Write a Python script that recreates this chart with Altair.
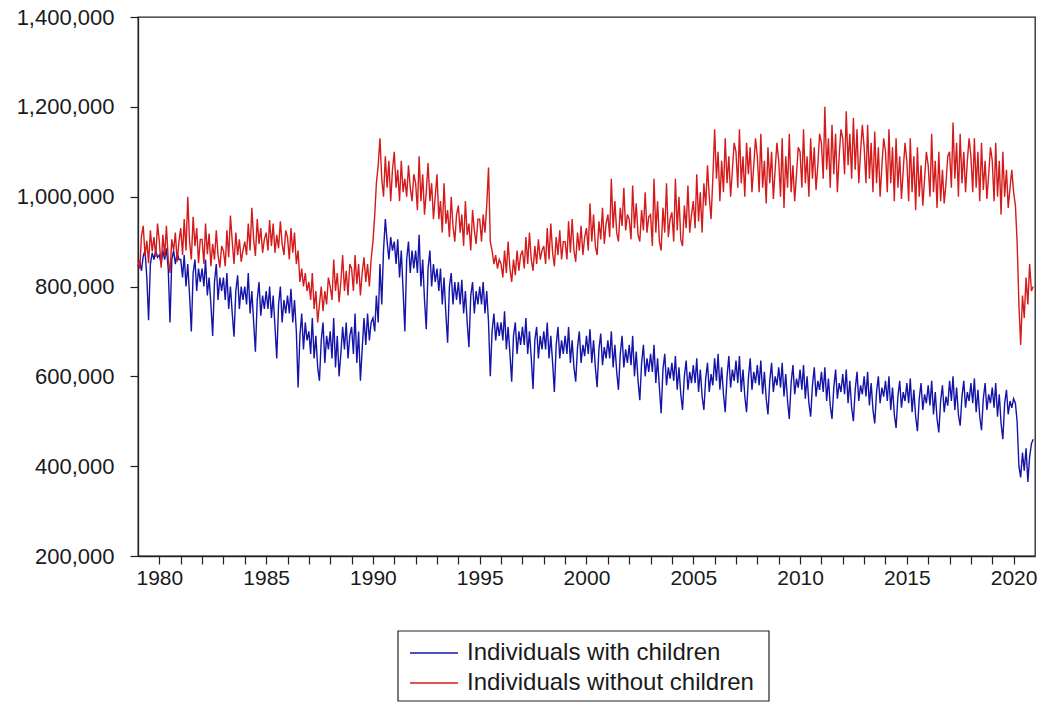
import altair as alt
import pandas as pd

years = list(range(1979, 2021))

# monthly values, thousands (Jan..Dec for each year 1979..2020)
with_children = [
    [845, 855, 835, 868, 880, 820, 725, 850, 875, 860, 880, 865],
    [870, 850, 880, 860, 885, 840, 720, 860, 880, 850, 875, 860],
    [860, 820, 870, 800, 850, 780, 700, 830, 860, 790, 840, 810],
    [840, 800, 860, 780, 820, 760, 690, 810, 850, 770, 820, 790],
    [820, 770, 830, 750, 800, 740, 688, 790, 825, 750, 800, 770],
    [800, 760, 830, 740, 790, 720, 655, 770, 810, 735, 780, 750],
    [790, 750, 800, 730, 780, 710, 640, 760, 800, 720, 770, 740],
    [780, 740, 795, 720, 770, 700, 575, 690, 740, 660, 720, 680],
    [700, 650, 730, 640, 690, 620, 590, 680, 720, 630, 690, 660],
    [700, 640, 730, 620, 690, 600, 650, 710, 660, 720, 640, 690],
    [710, 650, 740, 630, 700, 590, 660, 730, 670, 740, 680, 720],
    [730, 700, 780, 720, 850, 760, 880, 950, 900, 860, 910, 880],
    [900, 850, 905, 820, 880, 790, 700, 860, 900, 830, 880, 840],
    [880, 830, 915, 800, 860, 770, 705, 840, 880, 800, 850, 810],
    [840, 790, 840, 760, 820, 740, 675, 800, 830, 760, 810, 770],
    [810, 760, 815, 740, 790, 720, 665, 780, 810, 740, 790, 760],
    [800, 760, 810, 740, 790, 720, 600, 700, 740, 680, 720, 690],
    [720, 680, 745, 660, 710, 650, 588, 690, 720, 650, 700, 670],
    [710, 670, 730, 650, 700, 640, 572, 680, 710, 640, 690, 660],
    [700, 660, 720, 640, 690, 630, 565, 670, 710, 640, 680, 650],
    [690, 650, 710, 630, 680, 620, 588, 665, 700, 630, 670, 645],
    [690, 650, 705, 630, 680, 620, 576, 660, 695, 625, 665, 640],
    [680, 640, 700, 620, 670, 610, 570, 650, 690, 620, 660, 630],
    [670, 625, 690, 600, 655, 590, 547, 630, 670, 600, 640, 610],
    [650, 610, 670, 585, 640, 575, 518, 615, 650, 580, 620, 595],
    [630, 590, 645, 570, 620, 560, 525, 600, 635, 570, 610, 585],
    [625, 585, 640, 565, 615, 555, 525, 595, 630, 565, 605, 580],
    [640, 590, 650, 570, 620, 560, 520, 600, 645, 575, 615, 590],
    [635, 585, 645, 565, 615, 555, 520, 595, 640, 570, 610, 585],
    [625, 580, 635, 560, 610, 550, 515, 590, 630, 565, 600, 580],
    [620, 575, 630, 555, 605, 545, 505, 585, 625, 560, 595, 575],
    [615, 570, 625, 550, 600, 540, 510, 580, 620, 555, 590, 570],
    [610, 565, 620, 545, 595, 535, 505, 575, 615, 550, 585, 565],
    [605, 560, 615, 540, 590, 530, 500, 570, 610, 545, 580, 560],
    [600, 555, 610, 535, 585, 525, 495, 565, 600, 540, 575, 555],
    [590, 545, 600, 525, 575, 515, 485, 555, 590, 530, 565, 545],
    [585, 540, 595, 520, 570, 510, 478, 550, 585, 525, 560, 540],
    [580, 535, 590, 515, 565, 505, 475, 545, 580, 520, 555, 535],
    [590, 545, 600, 525, 575, 515, 490, 555, 590, 530, 565, 545],
    [585, 540, 595, 520, 570, 510, 480, 550, 585, 525, 560, 540],
    [575, 530, 585, 510, 560, 495, 460, 540, 570, 515, 545, 530],
    [550, 540, 500, 400, 375, 430, 390, 440, 365, 420, 450, 460],
]

without_children = [
    [858, 840, 912, 935, 868, 902, 852, 925, 878, 910, 866, 940],
    [900, 842, 915, 868, 935, 860, 830, 905, 880, 920, 855, 900],
    [930, 870, 950, 880, 1000, 900, 860, 955, 890, 930, 852, 905],
    [905, 850, 940, 872, 918, 845, 895, 860, 925, 870, 842, 890],
    [880, 845, 925, 865, 958, 900, 850, 920, 870, 905, 855, 880],
    [900, 870, 940, 880, 975, 905, 868, 950, 895, 930, 875, 905],
    [920, 880, 948, 890, 940, 875, 915, 885, 945, 895, 870, 925],
    [910, 860, 930, 875, 920, 850, 880, 810, 840, 800, 830, 790],
    [810, 770, 830, 750, 790, 720, 760, 800, 745, 790, 760, 820],
    [800, 770, 860, 790, 830, 765, 810, 870, 790, 835, 780, 850],
    [840, 790, 870, 805, 850, 780, 830, 865, 810, 850, 800, 860],
    [900, 960, 1030, 1070, 1130, 1040, 1000, 1090, 1020, 1080, 990, 1060],
    [1100, 1020, 1060, 990, 1080, 1010, 1040, 1000, 1070, 1020, 990, 1050],
    [1030, 970, 1090, 990, 1050, 960, 1010, 1075, 990, 1030, 950, 1000],
    [1050, 950, 990, 920, 1030, 940, 970, 910, 1000, 935, 900, 960],
    [980, 920, 960, 890, 990, 915, 940, 880, 970, 925, 895, 950],
    [950, 900, 960, 920, 980, 1065, 900, 880, 850, 870, 840, 860],
    [850, 820, 880, 830, 900, 840, 810, 860, 825, 880, 835, 870],
    [880, 840, 910, 850, 920, 860, 835, 890, 850, 905, 860, 880],
    [890, 850, 930, 860, 940, 875, 845, 910, 870, 925, 860, 900],
    [900, 860, 945, 875, 950, 880, 855, 920, 880, 935, 870, 910],
    [930, 880, 985, 900, 960, 890, 870, 945, 905, 975, 895, 940],
    [960, 910, 1040, 930, 990, 920, 900, 975, 935, 1020, 925, 960],
    [950, 905, 1025, 930, 985, 915, 900, 970, 925, 1010, 920, 955],
    [960, 890, 1040, 920, 990, 900, 880, 975, 920, 1030, 910, 950],
    [965, 900, 1040, 925, 1000, 905, 890, 980, 930, 1025, 920, 960],
    [990, 930, 1050, 945, 1010, 920, 1030, 980, 1070, 1000, 950, 1040],
    [1150, 1040, 1100, 990, 1080, 1010, 1130, 1030, 1090, 1000, 1060, 1120],
    [1100, 1020, 1150, 1030, 1090, 1000, 1120, 1050, 1110, 1010, 1070, 1130],
    [1090, 1010, 1140, 1020, 1080, 985, 1110, 1030, 1100, 995, 1060, 1120],
    [1080, 1000, 1130, 975, 1090, 1020, 1140, 1010, 1070, 990, 1050, 1110],
    [1100, 1020, 1150, 1030, 1090, 1000, 1130, 1040, 1110, 1015, 1070, 1140],
    [1120, 1040, 1200, 1060, 1130, 1020, 1160, 1050, 1140, 1010, 1090, 1150],
    [1130, 1050, 1190, 1070, 1140, 1040, 1175, 1060, 1150, 1030, 1100, 1160],
    [1110, 1030, 1160, 1040, 1120, 1010, 1145, 1030, 1110, 1000, 1070, 1130],
    [1100, 1010, 1150, 1030, 1110, 990, 1130, 1020, 1090, 995, 1060, 1120],
    [1080, 990, 1130, 1010, 1090, 970, 1110, 1000, 1070, 980, 1040, 1100],
    [1070, 1000, 1140, 1010, 1080, 975, 1100, 990, 1060, 985, 1030, 1090],
    [1100, 1020, 1165, 1040, 1120, 1000, 1140, 1030, 1100, 1010, 1080, 1130],
    [1090, 1010, 1130, 1020, 1100, 990, 1120, 1015, 1080, 995, 1050, 1110],
    [1080, 990, 1120, 1000, 1080, 960, 1100, 1000, 1060, 975, 1020, 1060],
    [1010, 980, 900, 760, 670, 780, 730, 820, 760, 850, 790, 800],
]

series_names = ["Individuals with children", "Individuals without children"]
series_colors = ["#1414a8", "#d41a1a"]
y_ticks = [200000, 400000, 600000, 800000, 1000000, 1200000, 1400000]
tick_years = list(range(1980, 2021))

dates = pd.date_range("1979-01-01", periods=12 * len(years), freq="MS")
rows = []
for name, table in zip(series_names, [with_children, without_children]):
    flat = [v * 1000 for yr in table for v in yr]
    for d, v in zip(dates, flat):
        rows.append({"date": d, "value": v, "series": name})
df = pd.DataFrame(rows)

FONT = "Liberation Sans"
TXT = "#1a1a1a"

lines = alt.Chart(df).mark_line(strokeWidth=1.4).encode(
    x=alt.X(
        "date:T",
        scale=alt.Scale(domain=[alt.DateTime(year=1979, month=1, date=1),
                                alt.DateTime(year=2021, month=1, date=1)]),
        axis=alt.Axis(
            values=[alt.DateTime(year=y, month=1, date=1) for y in tick_years],
            labelExpr="year(datum.value) % 5 == 0 ? timeFormat(datum.value, '%Y') : ''",
            title=None, grid=False, tickSize=8, labelPadding=3,
            labelOverlap=False, labelFlush=False, labelFontSize=21,
        ),
    ),
    y=alt.Y(
        "value:Q",
        scale=alt.Scale(domain=[200000, 1400000], nice=False, zero=False),
        axis=alt.Axis(values=y_ticks, format=",d", title=None, grid=False,
                      tickSize=8, labelPadding=16, labelFontSize=22),
    ),
    color=alt.Color("series:N",
                    scale=alt.Scale(domain=series_names, range=series_colors),
                    legend=None),
)

box = alt.Chart(pd.DataFrame({"k": [0]})).mark_rect(
    fill="white", stroke="#222", strokeWidth=1.2
).encode(x=alt.value(260), x2=alt.value(631), y=alt.value(614), y2=alt.value(684))

legend_layers = [box]
for i, (name, col) in enumerate(zip(series_names, series_colors)):
    ypos = 636 + i * 30
    d = pd.DataFrame({"series": [name]})
    legend_layers.append(
        alt.Chart(d).mark_rule(color=col, strokeWidth=1.4).encode(
            x=alt.value(272), x2=alt.value(320), y=alt.value(ypos)))
    legend_layers.append(
        alt.Chart(d).mark_text(align="left", baseline="middle", fontSize=24,
                               font=FONT, color=TXT).encode(
            x=alt.value(329), y=alt.value(ypos), text="series:N"))

chart = alt.layer(lines, *legend_layers).properties(
    width=897, height=539,
    padding={"left": 138, "top": 17, "right": 15, "bottom": 147},
    autosize=alt.AutoSizeParams(type="none"),
).configure_view(
    stroke="#222", strokeWidth=1.3
).configure_axis(
    domainColor="#222", tickColor="#222", labelColor=TXT,
    labelFont=FONT, domainWidth=1.3, tickWidth=1.2,
)

chart.save("out.html", embed_options={"renderer": "svg", "actions": False})
